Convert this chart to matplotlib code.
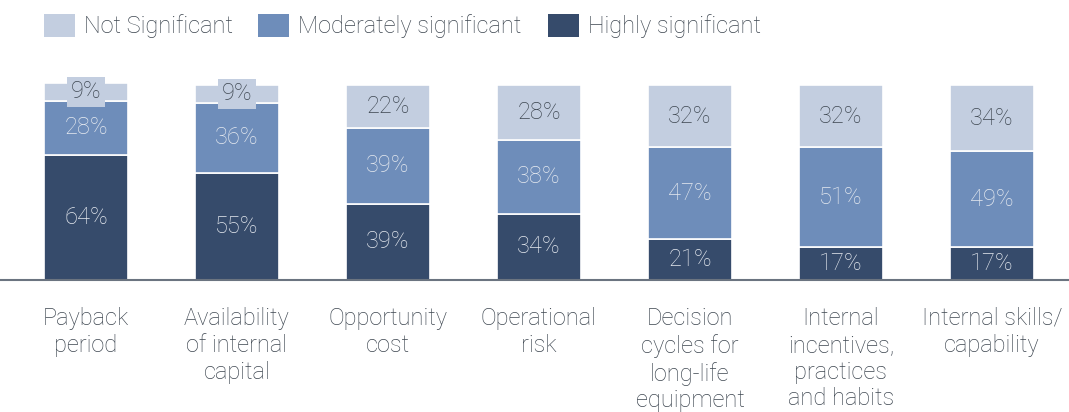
import matplotlib
matplotlib.use("Agg")
import matplotlib.pyplot as plt
from matplotlib.patches import Rectangle

categories = ["Payback\nperiod", "Availability\nof internal\ncapital", "Opportunity\ncost",
              "Operational\nrisk", "Decision\ncycles for\nlong-life\nequipment",
              "Internal\nincentives,\npractices\nand habits", "Internal skills/\ncapability"]
highly = [64, 55, 39, 34, 21, 17, 17]
moderately = [28, 36, 39, 38, 47, 51, 49]
not_sig = [9, 9, 22, 28, 32, 32, 34]
series_names = ["Not Significant", "Moderately significant", "Highly significant"]

c_dark = "#364b6b"
c_mid = "#6e8dba"
c_light = "#c3cee0"
txt_dark = "#3d4650"
txt_light = "#e6eaf0"

plt.rcParams['font.family'] = ['Roboto', 'DejaVu Sans']

W, H = 1069, 412
fig = plt.figure(figsize=(W / 100, H / 100), dpi=100)
ax = fig.add_axes([0, 0, 1, 1])
ax.set_axis_off()

step = 151.0
x0 = 86.0
base_px = 280.0
px_per = 1.95
ax.set_xlim(-x0 / step, (W - x0) / step)
ax.set_ylim(-(H - base_px) / px_per, base_px / px_per)

x = list(range(len(categories)))
width = 84 / step
fs = 17
fw = "light"

ax.bar(x, highly, width, color=c_dark, edgecolor="white", linewidth=1.2, zorder=2)
bottom2 = highly
ax.bar(x, moderately, width, bottom=bottom2, color=c_mid, edgecolor="white", linewidth=1.2, zorder=2)
bottom3 = [a + b for a, b in zip(highly, moderately)]
ax.bar(x, not_sig, width, bottom=bottom3, color=c_light, edgecolor="white", linewidth=1.2, zorder=2)

for i in x:
    ax.text(i, highly[i] / 2, f"{highly[i]}%", ha="center", va="center", color=txt_light,
            fontsize=fs, fontweight=fw, zorder=3)
    ax.text(i, bottom2[i] + moderately[i] / 2, f"{moderately[i]}%", ha="center", va="center",
            color=txt_light, fontsize=fs, fontweight=fw, zorder=3)
    kw = {}
    if not_sig[i] < 12:
        kw["bbox"] = dict(boxstyle="square,pad=0.15", facecolor=c_light, edgecolor="none")
    ax.text(i, bottom3[i] + not_sig[i] / 2, f"{not_sig[i]}%", ha="center", va="center",
            color=txt_dark, fontsize=fs, fontweight=fw, zorder=4, **kw)

# baseline
ax.axhline(0, color="#6b7480", linewidth=1.5, zorder=5)

# category labels
for i, lab in enumerate(categories):
    ax.text(i, -(307 - base_px) / px_per, lab, ha="center", va="top", color=txt_dark,
            fontsize=fs, fontweight=fw, linespacing=1.21)

# legend
leg_items = [(44, c_light, series_names[0]), (258, c_mid, series_names[1]), (548, c_dark, series_names[2])]
for lx, col, name in leg_items:
    fig.patches.append(Rectangle((lx / W, 1 - 37 / H), 31 / W, 23 / H, transform=fig.transFigure,
                                 facecolor=col, edgecolor="none"))
    fig.text((lx + 40) / W, 1 - 26 / H, name, ha="left", va="center", color=txt_dark,
             fontsize=fs, fontweight=fw)

fig.savefig("out.png", dpi=100)
